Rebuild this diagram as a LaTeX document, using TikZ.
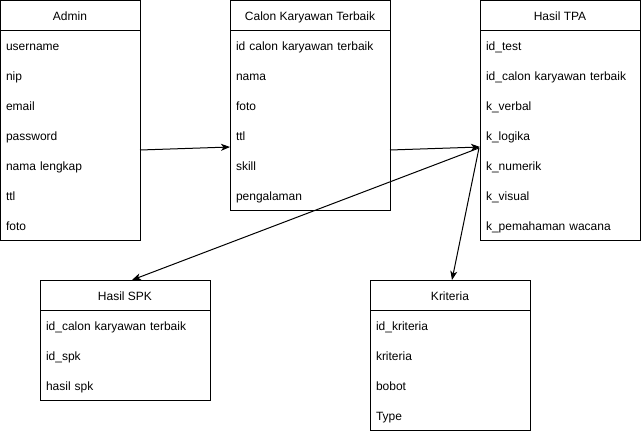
\documentclass[tikz,border=0pt]{standalone}
\usepackage{fontspec}
\setmainfont{Liberation Sans}
\usetikzlibrary{positioning}
\usetikzlibrary{fit}
\usetikzlibrary{arrows.meta}
\tikzstyle{table}=[draw, minimum height=30pt, text height=11pt, text depth=1pt, inner sep=0pt, outer sep=0pt, anchor=north west, line width=1pt]
\tikzstyle{field}=[minimum height=30pt, text height=11pt, text depth=1pt, inner xsep=6pt, inner ysep=0pt, outer sep=0pt, align=left]
\tikzstyle{frame}=[draw, inner sep=0pt, line width=1pt]
\tikzstyle{link}=[line width=1pt, -{Stealth[length=9pt, width=7pt, inset=2.5pt]}]

\begin{document}
\begin{tikzpicture}[x=1pt, y=-1pt, font=\fontsize{12}{14}\selectfont]
      \useasboundingbox (0, 0) rectangle (641, 431);

      % Admin
      \node[table, minimum width=140pt] (admin) at (0, 0) {Admin};
      \node[field, text width=128pt, below=0pt of admin] (admin_username) {username};
      \node[field, text width=128pt, below=0pt of admin_username] (admin_nip) {nip};
      \node[field, text width=128pt, below=0pt of admin_nip] (admin_email) {email};
      \node[field, text width=128pt, below=0pt of admin_email] (admin_password) {password};
      \node[field, text width=128pt, below=0pt of admin_password] (admin_nama) {nama lengkap};
      \node[field, text width=128pt, below=0pt of admin_nama] (admin_ttl) {ttl};
      \node[field, text width=128pt, below=0pt of admin_ttl] (admin_foto) {foto};
      \node[frame, fit=(admin) (admin_foto)] (admin_box) {};

      % Calon Karyawan Terbaik
      \node[table, minimum width=160pt] (calon) at (230, 0) {Calon Karyawan Terbaik};
      \node[field, text width=148pt, below=0pt of calon] (calon_id) {id calon karyawan terbaik};
      \node[field, text width=148pt, below=0pt of calon_id] (calon_nama) {nama};
      \node[field, text width=148pt, below=0pt of calon_nama] (calon_foto) {foto};
      \node[field, text width=148pt, below=0pt of calon_foto] (calon_ttl) {ttl};
      \node[field, text width=148pt, below=0pt of calon_ttl] (calon_skill) {skill};
      \node[field, text width=148pt, below=0pt of calon_skill] (calon_pengalaman) {pengalaman};
      \node[frame, fit=(calon) (calon_pengalaman)] (calon_box) {};

      % Hasil TPA
      \node[table, minimum width=160pt] (tpa) at (480, 0) {Hasil TPA};
      \node[field, text width=148pt, below=0pt of tpa] (tpa_test) {id\_test};
      \node[field, text width=148pt, below=0pt of tpa_test] (tpa_calon) {id\_calon karyawan terbaik};
      \node[field, text width=148pt, below=0pt of tpa_calon] (tpa_verbal) {k\_verbal};
      \node[field, text width=148pt, below=0pt of tpa_verbal] (tpa_logika) {k\_logika};
      \node[field, text width=148pt, below=0pt of tpa_logika] (tpa_numerik) {k\_numerik};
      \node[field, text width=148pt, below=0pt of tpa_numerik] (tpa_visual) {k\_visual};
      \node[field, text width=148pt, below=0pt of tpa_visual] (tpa_wacana) {k\_pemahaman wacana};
      \node[frame, fit=(tpa) (tpa_wacana)] (tpa_box) {};

      % Hasil SPK
      \node[table, minimum width=170pt] (spk) at (40, 280) {Hasil SPK};
      \node[field, text width=158pt, below=0pt of spk] (spk_calon) {id\_calon karyawan terbaik};
      \node[field, text width=158pt, below=0pt of spk_calon] (spk_id) {id\_spk};
      \node[field, text width=158pt, below=0pt of spk_id] (spk_hasil) {hasil spk};
      \node[frame, fit=(spk) (spk_hasil)] (spk_box) {};

      % Kriteria
      \node[table, minimum width=160pt] (kriteria) at (370, 280) {Kriteria};
      \node[field, text width=148pt, below=0pt of kriteria] (kriteria_id) {id\_kriteria};
      \node[field, text width=148pt, below=0pt of kriteria_id] (kriteria_nama) {kriteria};
      \node[field, text width=148pt, below=0pt of kriteria_nama] (kriteria_bobot) {bobot};
      \node[field, text width=148pt, below=0pt of kriteria_bobot] (kriteria_type) {Type};
      \node[frame, fit=(kriteria) (kriteria_type)] (kriteria_box) {};

      \coordinate (hub) at ([shift={(-1pt, 2pt)}]tpa_logika.south west);

      \draw[link] (admin_password.south east) to ([yshift=3pt]calon_ttl.south west);
      \draw[link] (calon_ttl.south east) to ([yshift=3pt]tpa_logika.south west);
      \draw[link] (hub) to ([xshift=7pt]spk.north);
      \draw[link] (hub) to ([xshift=2pt]kriteria.north);
    \end{tikzpicture}
\end{document}
